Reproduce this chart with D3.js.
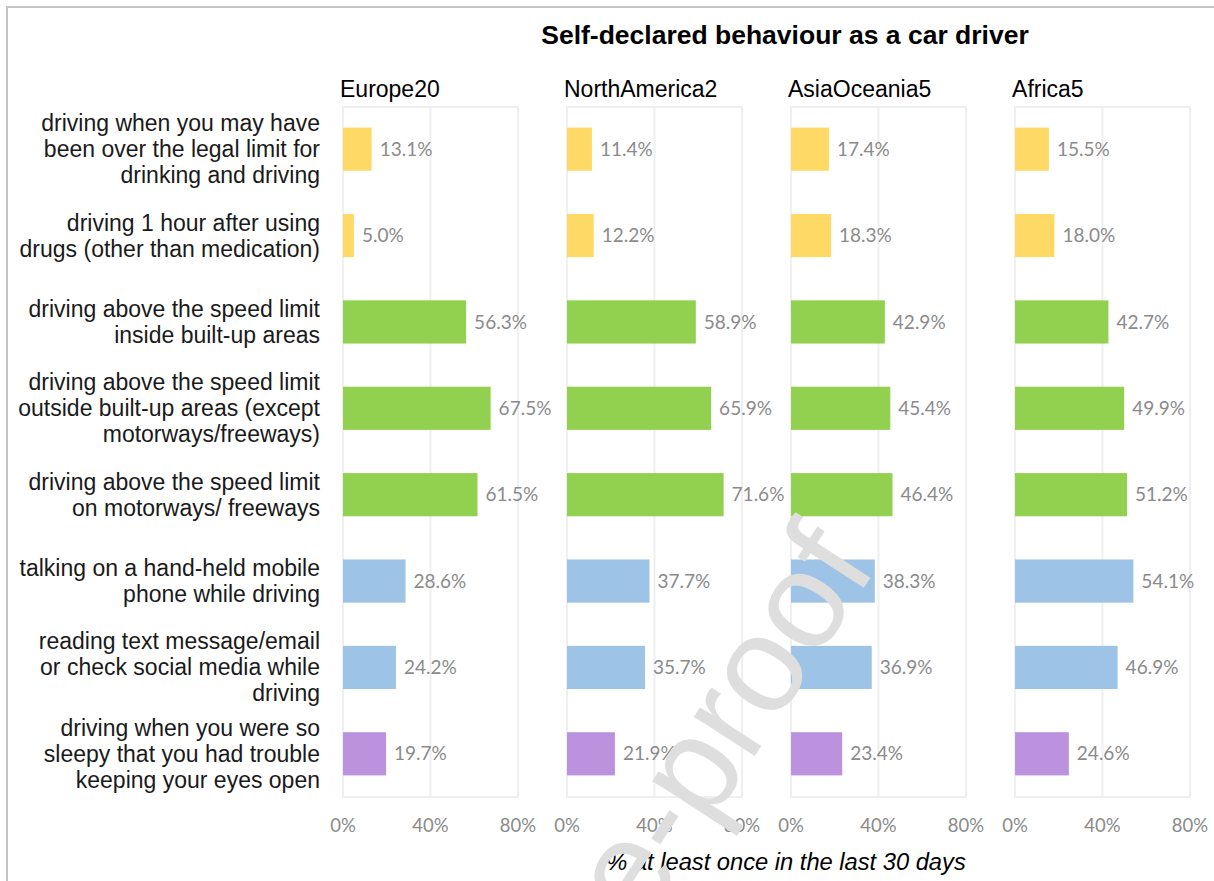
<!DOCTYPE html>
<html>
<head>
<meta charset="utf-8">
<script src="https://cdn.jsdelivr.net/npm/d3@7"></script>
<style>
  body { margin: 0; background: #fff; }
  svg { display: block; }
</style>
</head>
<body>
<svg id="chart"></svg>
<script>
// categories (one label per row, split into lines as in the source)
const categories = [
    ["driving when you may have", "been over the legal limit for", "drinking and driving"],
    ["driving 1 hour after using", "drugs (other than medication)"],
    ["driving above the speed limit", "inside built-up areas"],
    ["driving above the speed limit", "outside built-up areas (except", "motorways/freeways)"],
    ["driving above the speed limit", "on motorways/ freeways"],
    ["talking on a hand-held mobile", "phone while driving"],
    ["reading text message/email", "or check social media while", "driving"],
    ["driving when you were so", "sleepy that you had trouble", "keeping your eyes open"]
];
const groups = ["alcohol", "alcohol", "speed", "speed", "speed", "phone", "phone", "fatigue"];

const regions = ["Europe20", "NorthAmerica2", "AsiaOceania5", "Africa5"];
const europe20 = [13.1, 5.0, 56.3, 67.5, 61.5, 28.6, 24.2, 19.7];
const northAmerica2 = [11.4, 12.2, 58.9, 65.9, 71.6, 37.7, 35.7, 21.9];
const asiaOceania5 = [17.4, 18.3, 42.9, 45.4, 46.4, 38.3, 36.9, 23.4];
const africa5 = [15.5, 18.0, 42.7, 49.9, 51.2, 54.1, 46.9, 24.6];
const ticks = [0, 40, 80];

const width = 1214;
const height = 881;

const seriesByRegion = {
    "Europe20": europe20,
    "NorthAmerica2": northAmerica2,
    "AsiaOceania5": asiaOceania5,
    "Africa5": africa5
};

const color = d3.scaleOrdinal()
    .domain(["alcohol", "speed", "phone", "fatigue"])
    .range(["#ffd966", "#92d050", "#9dc3e6", "#bc91dd"]);

const rowIds = categories.map((d, i) => i);

const y = d3.scaleBand()
    .domain(rowIds)
    .range([106, 797])
    .paddingInner(0.5)
    .paddingOuter(0.25);

const panel = d3.scaleBand()
    .domain(regions)
    .range([343, 1190])
    .paddingInner(0.219)
    .paddingOuter(0);

const x = d3.scaleLinear()
    .domain([0, 80])
    .range([0, panel.bandwidth()]);

const svg = d3.select("#chart")
    .attr("width", width)
    .attr("height", height)
    .attr("viewBox", [0, 0, width, height]);

// outer frame (only top and left edges visible in the crop)
svg.append("path")
    .attr("d", `M7,${height} V7 H${width}`)
    .attr("fill", "none")
    .attr("stroke", "#c4c4c4")
    .attr("stroke-width", 2);

// title
svg.append("text")
    .attr("x", 785)
    .attr("y", 44)
    .attr("text-anchor", "middle")
    .attr("font-family", "'Liberation Sans', Arial, sans-serif")
    .attr("font-weight", "bold")
    .attr("font-size", 26.5)
    .attr("fill", "#000")
    .text("Self-declared behaviour as a car driver");

// row labels
const labels = svg.append("g")
    .attr("font-family", "'Liberation Sans', Arial, sans-serif")
    .attr("font-size", 23)
    .attr("fill", "#1a1a1a")
    .attr("text-anchor", "end");

labels.selectAll("text")
    .data(categories)
    .join("text")
        .attr("x", 320)
        .attr("y", (d, i) => y(i) + y.bandwidth() / 2)
        .each(function(lines) {
            const t = d3.select(this);
            const lh = 26;
            const off = -(lines.length - 1) * lh / 2;
            lines.forEach((line, k) => {
                t.append("tspan")
                    .attr("x", 320)
                    .attr("y", +t.attr("y") + off + k * lh)
                    .attr("dy", "0.35em")
                    .text(line);
            });
        });

// panels
const panels = svg.selectAll("g.panel")
    .data(regions)
    .join("g")
        .attr("class", "panel")
        .attr("transform", d => `translate(${panel(d)},0)`);

panels.append("text")
    .attr("x", -3)
    .attr("y", 97)
    .attr("font-family", "'Liberation Sans', Arial, sans-serif")
    .attr("font-size", 23)
    .attr("fill", "#000")
    .text(d => d);

// plot frame + gridlines
panels.append("rect")
    .attr("x", x(0))
    .attr("y", 107)
    .attr("width", x(80) - x(0))
    .attr("height", 797 - 107)
    .attr("fill", "none")
    .attr("stroke", "#efefef")
    .attr("stroke-width", 2);

panels.selectAll("line.grid")
    .data(ticks.slice(1, -1))
    .join("line")
        .attr("class", "grid")
        .attr("x1", d => x(d))
        .attr("x2", d => x(d))
        .attr("y1", 107)
        .attr("y2", 797)
        .attr("stroke", "#efefef")
        .attr("stroke-width", 2);

// tick labels
panels.selectAll("text.tick")
    .data(ticks)
    .join("text")
        .attr("class", "tick")
        .attr("x", d => x(d))
        .attr("y", 832)
        .attr("text-anchor", "middle")
        .attr("font-family", "Lato, 'Noto Sans', sans-serif")
        .attr("font-size", 18.5)
        .attr("fill", "#8a8a8a")
        .text(d => d + "%");

// bars
panels.selectAll("rect.bar")
    .data(r => seriesByRegion[r].map((v, i) => ({v, i})))
    .join("rect")
        .attr("class", "bar")
        .attr("x", x(0))
        .attr("y", d => y(d.i))
        .attr("width", d => x(d.v) - x(0))
        .attr("height", y.bandwidth())
        .attr("fill", d => color(groups[d.i]));

// value labels
panels.selectAll("text.val")
    .data(r => seriesByRegion[r].map((v, i) => ({v, i})))
    .join("text")
        .attr("class", "val")
        .attr("x", d => x(d.v) + 8)
        .attr("y", d => y(d.i) + y.bandwidth() / 2)
        .attr("dy", "0.35em")
        .attr("font-family", "Lato, 'Noto Sans', sans-serif")
        .attr("font-size", 19)
        .attr("fill", "#8a8a8a")
        .text(d => d.v.toFixed(1) + "%");

// x axis title
svg.append("text")
    .attr("x", 786)
    .attr("y", 870)
    .attr("text-anchor", "middle")
    .attr("font-family", "'Liberation Sans', Arial, sans-serif")
    .attr("font-style", "italic")
    .attr("font-size", 23.7)
    .attr("fill", "#000")
    .text("% at least once in the last 30 days");

// watermark
svg.append("text")
    .attr("transform", "translate(878,566) rotate(-57)")
    .attr("text-anchor", "end")
    .attr("font-family", "'Liberation Sans', Arial, sans-serif")
    .attr("font-size", 137)
    .attr("fill", "#dedede")
    .text("Journal Pre-proof");
</script>
</body>
</html>
